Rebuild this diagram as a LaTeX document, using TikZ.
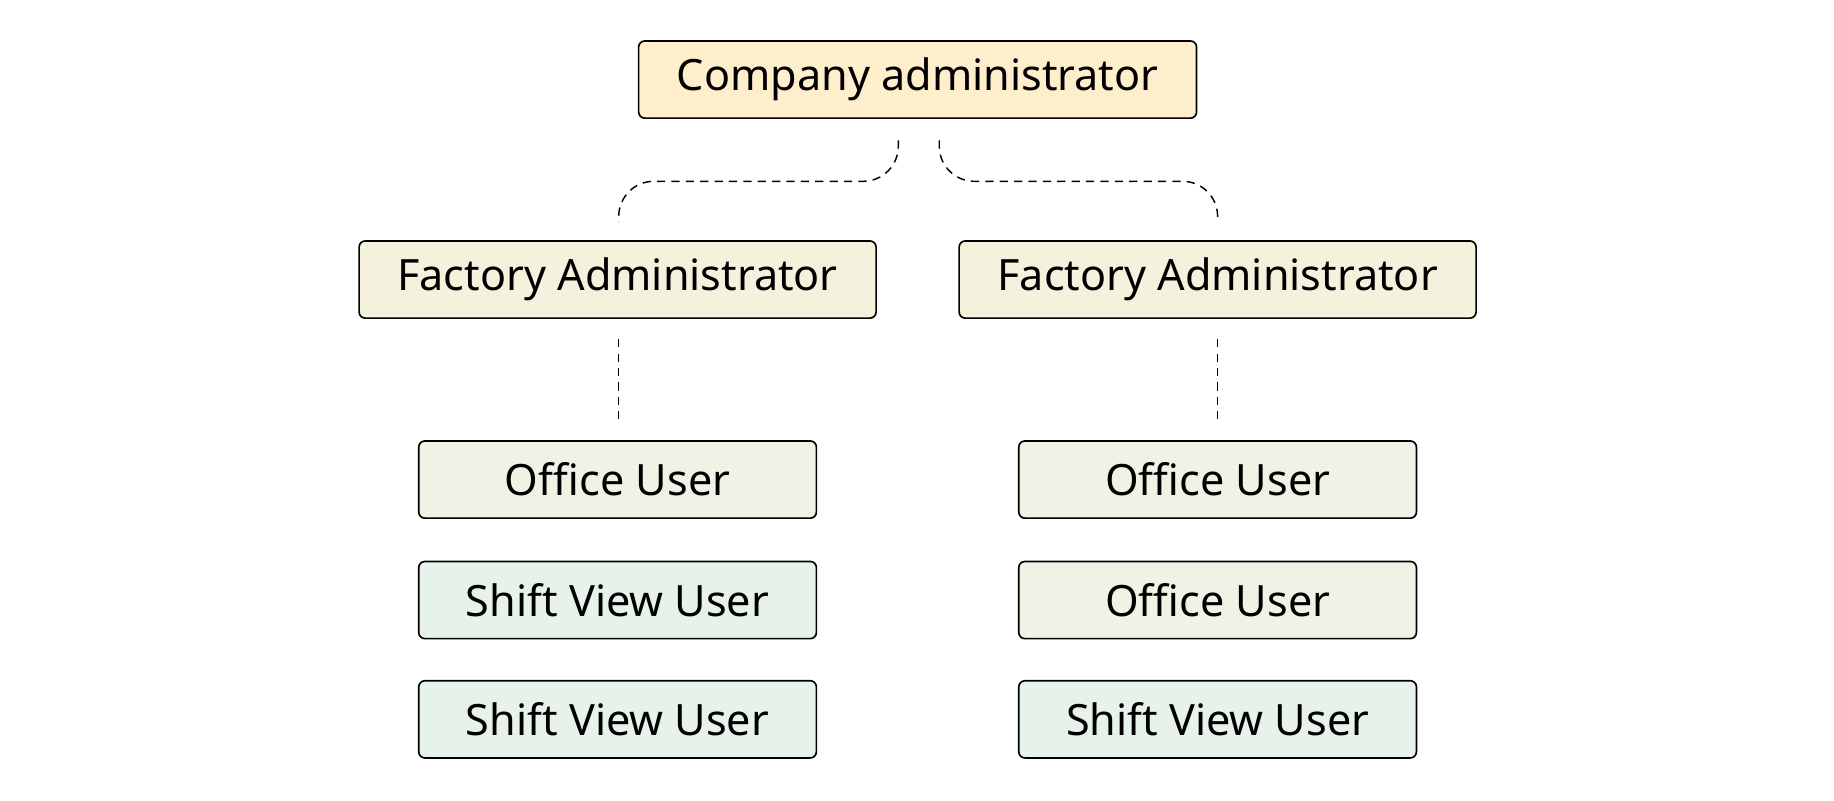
\documentclass[tikz,border=0pt]{standalone}
\usepackage{fontspec}
\setmainfont{Noto Sans}
\usetikzlibrary{positioning}
\definecolor{compfill}{HTML}{FFEECC}
\definecolor{factfill}{HTML}{F4F1DD}
\definecolor{offfill}{HTML}{EFF2E4}
\definecolor{shiftfill}{HTML}{E7F3EA}
\tikzset{
  role/.style={draw, rounded corners=3pt, line width=0.8pt, minimum height=66*0.02cm,
    inner sep=0pt, font=\fontsize{21}{24}\selectfont},
  link/.style={dashed, line width=0.7pt, dash pattern=on 4pt off 3pt}
}
\begin{document}
\begin{tikzpicture}[x=0.02cm, y=-0.02cm]
\useasboundingbox (0,0) rectangle (1568,684);
\node[role, fill=compfill, minimum width=477*0.02cm] (comp) at (784.5,68) {Company administrator};
\node[role, fill=factfill, minimum width=442*0.02cm] (factL) at (528,239) {Factory Administrator};
\node[role, fill=factfill, minimum width=442*0.02cm] (factR) at (1041,239) {Factory Administrator};

\node[role, fill=offfill, minimum width=340*0.02cm] (offL) at (528,410) {Office User};
\node[role, fill=shiftfill, minimum width=340*0.02cm] (shiftLa) at (528,513) {Shift View User};
\node[role, fill=shiftfill, minimum width=340*0.02cm] (shiftLb) at (528,615) {Shift View User};

\node[role, fill=offfill, minimum width=340*0.02cm] (offRa) at (1041,410) {Office User};
\node[role, fill=offfill, minimum width=340*0.02cm] (offRb) at (1041,513) {Office User};
\node[role, fill=shiftfill, minimum width=340*0.02cm] (shiftR) at (1041,615) {Shift View User};

% connectors, with a gap to each box
\coordinate (cL) at (768,120);
\coordinate (cR) at (803,120);
\coordinate (fL) at (529,190);
\coordinate (fR) at (1041,190);
\coordinate (fLb) at (529,290);
\coordinate (oL) at (529,358);
\coordinate (fRb) at (1041,290);
\coordinate (oR) at (1041,358);
\draw[link, rounded corners=30*0.02cm] (cL) |- (fL |- 0,155) -- (fL);
\draw[link, rounded corners=30*0.02cm] (cR) |- (fR |- 0,155) -- (fR);
\draw[link] (fLb) -- (oL);
\draw[link] (fRb) -- (oR);
\end{tikzpicture}
\end{document}
